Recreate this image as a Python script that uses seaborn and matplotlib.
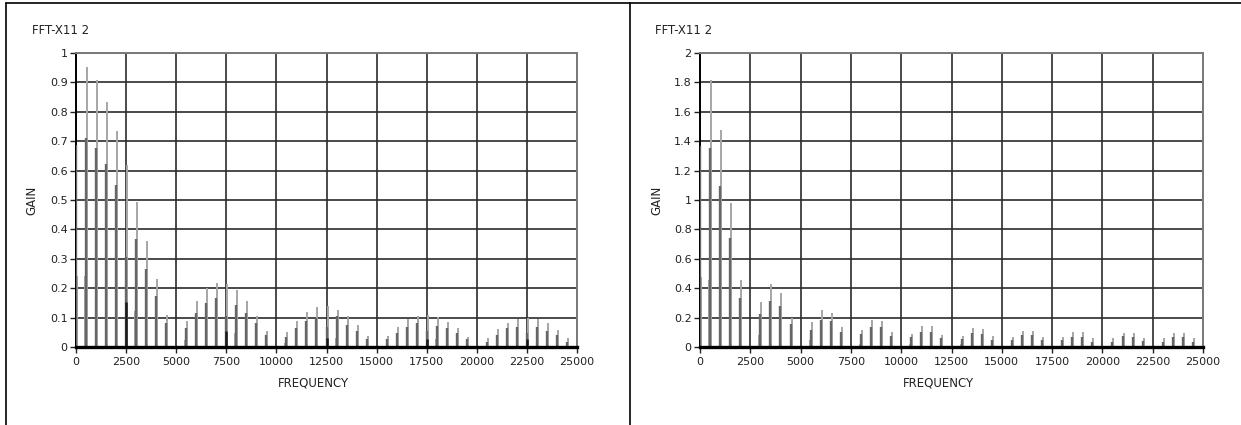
"""Two FFT gain spectra (FFT-X11 2), drawn as stem lines on a dense grid."""

import matplotlib

matplotlib.use("Agg")
import numpy as np
import pandas as pd
import seaborn as sns
from matplotlib import pyplot as plt
from matplotlib.lines import Line2D

# harmonic frequencies (Hz), shared by both panels
harmonics = [
    0, 500, 1000, 1500, 2000, 2500, 3000, 3500, 4000, 4500,
    5000, 5500, 6000, 6500, 7000, 7500, 8000, 8500, 9000, 9500,
    10000, 10500, 11000, 11500, 12000, 12500, 13000, 13500, 14000, 14500,
    15000, 15500, 16000, 16500, 17000, 17500, 18000, 18500, 19000, 19500,
    20000, 20500, 21000, 21500, 22000, 22500, 23000, 23500, 24000, 24500,
]

# left panel
left_light = [
    0.24, 0.952, 0.907, 0.832, 0.736, 0.62, 0.494, 0.36, 0.23, 0.11,
    0, 0.089, 0.156, 0.2, 0.218, 0.215, 0.194, 0.157, 0.106, 0.056,
    0, 0.052, 0.089, 0.118, 0.135, 0.14, 0.125, 0.105, 0.076, 0.038,
    0, 0.038, 0.069, 0.095, 0.107, 0.109, 0.103, 0.086, 0.064, 0.035,
    0, 0.032, 0.06, 0.081, 0.094, 0.098, 0.094, 0.081, 0.058, 0.032,
]
left_dark = [
    0.687, 0.71, 0.678, 0.623, 0.551, 0.307, 0.367, 0.267, 0.173, 0.08,
    0, 0.066, 0.114, 0.148, 0.165, 0.106, 0.143, 0.115, 0.083, 0.041,
    0, 0.035, 0.065, 0.089, 0.1, 0.069, 0.106, 0.076, 0.055, 0.026,
    0, 0.027, 0.047, 0.069, 0.081, 0.055, 0.072, 0.064, 0.047, 0.026,
    0, 0.018, 0.041, 0.064, 0.069, 0.047, 0.069, 0.055, 0.041, 0.018,
]
left_side_freq = [450, 2050, 2950, 4550, 5450, 7050, 7950, 9550, 10450, 12050, 12950, 14550, 17050, 17950]
left_side_gain = [0.24, 0.18, 0.123, 0.025, 0.023, 0.05, 0.049, 0.01, 0.012, 0.028, 0.03, 0.008, 0.026, 0.026]
left_black_freq = [2500, 7500, 12500, 17500, 22500]
left_black_gain = [0.153, 0.056, 0.032, 0.026, 0.026]

# right panel
right_light = [
    0.477, 1.814, 1.473, 0.977, 0.455, 0, 0.307, 0.427, 0.368, 0.2,
    0, 0.17, 0.255, 0.234, 0.136, 0, 0.118, 0.186, 0.175, 0.1,
    0, 0.09, 0.143, 0.143, 0.082, 0, 0.077, 0.127, 0.12, 0.075,
    0, 0.07, 0.111, 0.111, 0.07, 0, 0.07, 0.102, 0.102, 0.059,
    0, 0.064, 0.093, 0.093, 0.064, 0, 0.059, 0.093, 0.093, 0.064,
]
right_dark = [
    1.368, 1.357, 1.098, 0.739, 0.336, 0, 0.223, 0.314, 0.277, 0.155,
    0, 0.118, 0.182, 0.177, 0.102, 0, 0.086, 0.136, 0.136, 0.075,
    0, 0.068, 0.102, 0.102, 0.059, 0, 0.052, 0.093, 0.089, 0.048,
    0, 0.048, 0.082, 0.082, 0.048, 0, 0.048, 0.07, 0.07, 0.036,
    0, 0.036, 0.075, 0.07, 0.043, 0, 0.036, 0.07, 0.07, 0.036,
]
right_side_freq = [430, 2050, 2950, 4550, 5450, 7950, 10450, 12950]
right_side_gain = [0.455, 0.114, 0.08, 0.045, 0.045, 0.023, 0.02, 0.02]

LIGHT = "#a6a6a6"
DARK = "#666666"
BLACK = "#1a1a1a"
GRID = "#2b2b2b"
LIGHT_SHIFT = 50  # light line sits just beside the dark one


def spectrum_frame(light, dark):
    df = pd.DataFrame({"freq": harmonics, "light": light, "dark": dark})
    return df


def draw_panel(ax, df, side_f, side_g, black_f, black_g, ymax, ystep):
    lt = df[df["light"] > 0]
    dk = df[df["dark"] > 0]
    ax.vlines(np.array(side_f), 0, side_g, colors=LIGHT, lw=1.4, zorder=3)
    ax.vlines(lt["freq"] + LIGHT_SHIFT, 0, lt["light"], colors=LIGHT, lw=1.4, zorder=3)
    ax.vlines(dk["freq"], 0, dk["dark"], colors=DARK, lw=1.7, zorder=4)
    if black_f:
        ax.vlines(black_f, 0, black_g, colors=BLACK, lw=1.8, zorder=5)

    ax.set_xlim(0, 25000)
    ax.set_ylim(0, ymax)
    xt = np.arange(0, 25001, 2500)
    yt = np.round(np.arange(0, ymax + ystep / 2, ystep), 2)
    ax.set_xticks(xt)
    ax.set_xticklabels([str(v) for v in xt])
    ax.set_yticks(yt)
    ax.set_yticklabels([f"{v:g}" for v in yt])
    ax.grid(True, color=GRID, lw=1.2, zorder=1)
    ax.set_axisbelow(True)
    ax.tick_params(axis="both", direction="out", length=4.5, width=1, color="#222222",
                   labelsize=8, pad=1.5, labelcolor="#222222", bottom=True, left=True)
    ax.tick_params(axis="x", pad=2.5)
    for side in ("top", "right"):
        ax.spines[side].set_visible(True)
        ax.spines[side].set_color("#7a7a7a")
        ax.spines[side].set_linewidth(1.4)
    ax.spines["left"].set_color("black")
    ax.spines["left"].set_linewidth(1.4)
    ax.spines["bottom"].set_color("black")
    ax.spines["bottom"].set_linewidth(2.4)
    ax.spines["bottom"].set_zorder(6)
    ax.set_xlabel("")
    ax.set_ylabel("")


sns.set_theme(style="ticks")
plt.rcParams["font.family"] = ["DejaVu Sans"]

fig = plt.figure(figsize=(12.41, 4.25), dpi=100)
W, H = 1241, 425
ax1 = fig.add_axes([76 / W, (H - 347) / H, 501 / W, 294 / H])
ax2 = fig.add_axes([700 / W, (H - 347) / H, 503 / W, 294 / H])

draw_panel(ax1, spectrum_frame(left_light, left_dark), left_side_freq, left_side_gain,
           left_black_freq, left_black_gain, 1.0, 0.1)
draw_panel(ax2, spectrum_frame(right_light, right_dark), right_side_freq, right_side_gain,
           [], [], 2.0, 0.2)

txt = dict(fontsize=8.5, color="#222222")
fig.text(32 / W, (H - 30) / H, "FFT-X11 2", ha="left", va="center", **txt)
fig.text(655 / W, (H - 30) / H, "FFT-X11 2", ha="left", va="center", **txt)
fig.text(32 / W, (H - 200) / H, "GAIN", rotation=90, ha="center", va="center", **txt)
fig.text(657 / W, (H - 200) / H, "GAIN", rotation=90, ha="center", va="center", **txt)
fig.text(313 / W, (H - 383) / H, "FREQUENCY", ha="center", va="center", **txt)
fig.text(938 / W, (H - 383) / H, "FREQUENCY", ha="center", va="center", **txt)

# outer frame: top edge, left edge, divider between panels
frame = dict(color="black", lw=1.2, transform=fig.transFigure)
fig.add_artist(Line2D([6 / W, 1.0], [(H - 2.5) / H] * 2, **frame))
fig.add_artist(Line2D([6 / W] * 2, [0, (H - 2.5) / H], **frame))
fig.add_artist(Line2D([630 / W] * 2, [0, (H - 2.5) / H], **frame))

fig.savefig("out.png", dpi=100, facecolor="white")
